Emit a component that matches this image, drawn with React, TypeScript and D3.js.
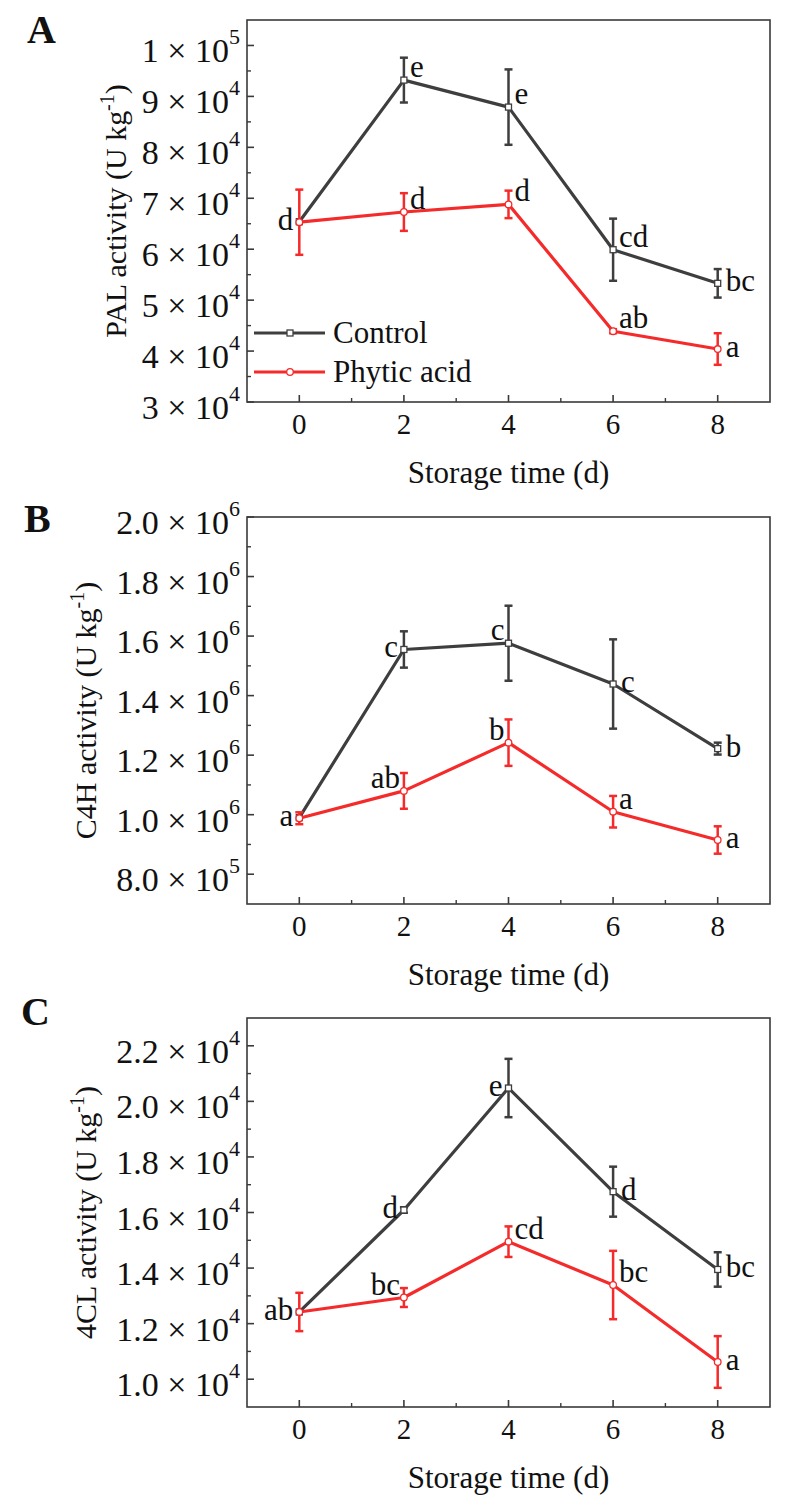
import React from 'react';
import * as d3 from 'd3';

// ---------- DATA ----------
const days = [0, 2, 4, 6, 8];
const xTickValues = [0, 2, 4, 6, 8];
const xMinorValues = [1, 3, 5, 7];
const seriesNames = ['Control', 'Phytic acid'];

// Panel A – PAL
const palControl = [65400, 93200, 87900, 59900, 53300];
const palControlErr = [0, 4400, 7400, 6100, 2800];
const palPhytic = [65300, 67300, 68800, 43900, 40400];
const palPhyticErr = [6400, 3700, 2700, 400, 3100];
const palControlLetters = ['', 'e', 'e', 'cd', 'bc'];
const palPhyticLetters = ['d', 'd', 'd', 'ab', 'a'];
const palTicks = [30000, 40000, 50000, 60000, 70000, 80000, 90000, 100000];
const palTickMantissa = ['3', '4', '5', '6', '7', '8', '9', '1'];
const palTickExp = ['4', '4', '4', '4', '4', '4', '4', '5'];
const palMinor = [35000, 45000, 55000, 65000, 75000, 85000, 95000];

// Panel B – C4H
const c4hControl = [990000, 1555000, 1576000, 1439000, 1222000];
const c4hControlErr = [0, 61000, 126000, 150000, 20000];
const c4hPhytic = [988000, 1080000, 1242000, 1010000, 915000];
const c4hPhyticErr = [20000, 60000, 78000, 53000, 46000];
const c4hControlLetters = ['', 'c', 'c', 'c', 'b'];
const c4hPhyticLetters = ['a', 'ab', 'b', 'a', 'a'];
const c4hTicks = [800000, 1000000, 1200000, 1400000, 1600000, 1800000, 2000000];
const c4hTickMantissa = ['8.0', '1.0', '1.2', '1.4', '1.6', '1.8', '2.0'];
const c4hTickExp = ['5', '6', '6', '6', '6', '6', '6'];
const c4hMinor = [900000, 1100000, 1300000, 1500000, 1700000, 1900000];

// Panel C – 4CL
const clControl = [12420, 16090, 20480, 16750, 13950];
const clControlErr = [0, 100, 1050, 900, 620];
const clPhytic = [12420, 12940, 14950, 13390, 10620];
const clPhyticErr = [690, 340, 550, 1230, 930];
const clControlLetters = ['', 'd', 'e', 'd', 'bc'];
const clPhyticLetters = ['ab', 'bc', 'cd', 'bc', 'a'];
const clTicks = [10000, 12000, 14000, 16000, 18000, 20000, 22000];
const clTickMantissa = ['1.0', '1.2', '1.4', '1.6', '1.8', '2.0', '2.2'];
const clTickExp = ['4', '4', '4', '4', '4', '4', '4'];
const clMinor = [11000, 13000, 15000, 17000, 19000, 21000];

// ---------- LAYOUT / STYLE ----------
type Pos = 'E' | 'NE' | 'W' | 'NW';
const palControlPos: Pos[] = ['W', 'NE', 'NE', 'NE', 'E'];
const palPhyticPos: Pos[] = ['W', 'NE', 'NE', 'NE', 'E'];
const c4hControlPos: Pos[] = ['W', 'W', 'NW', 'E', 'E'];
const c4hPhyticPos: Pos[] = ['W', 'NW', 'NW', 'NE', 'E'];
const clControlPos: Pos[] = ['W', 'W', 'W', 'E', 'E'];
const clPhyticPos: Pos[] = ['W', 'NW', 'NE', 'NE', 'E'];

const posOffset: Record<Pos, { dx: number; dy: number; anchor: string }> = {
  E: { dx: 8, dy: 8, anchor: 'start' },
  NE: { dx: 6, dy: -3, anchor: 'start' },
  W: { dx: -6, dy: 8, anchor: 'end' },
  NW: { dx: -4, dy: -3, anchor: 'end' },
};

const FONT = '"Liberation Serif", "Times New Roman", "DejaVu Serif", serif';
const CONTROL_COLOR = '#3e3e3e';
const PHYTIC_COLOR = '#f52b2b';
const AXIS_COLOR = '#3a3a3a';

const PLOT_LEFT = 247;
const PLOT_RIGHT = 770;

interface PanelSpec {
  letter: string;
  letterX: number;
  letterY: number;
  top: number;
  bottom: number;
  domain: [number, number];
  ticks: number[];
  mant: string[];
  exp: string[];
  minor: number[];
  titleMain: string;
  titleX: number;
  control: number[];
  controlErr: number[];
  phytic: number[];
  phyticErr: number[];
  controlLetters: string[];
  phyticLetters: string[];
  controlPos: Pos[];
  phyticPos: Pos[];
  legend: boolean;
}

const panels: PanelSpec[] = [
  {
    letter: 'A', letterX: 27, letterY: 43, top: 20, bottom: 402, domain: [30000, 105000],
    ticks: palTicks, mant: palTickMantissa, exp: palTickExp, minor: palMinor,
    titleMain: 'PAL activity (U kg', titleX: 126,
    control: palControl, controlErr: palControlErr, phytic: palPhytic, phyticErr: palPhyticErr,
    controlLetters: palControlLetters, phyticLetters: palPhyticLetters,
    controlPos: palControlPos, phyticPos: palPhyticPos, legend: true,
  },
  {
    letter: 'B', letterX: 24, letterY: 532, top: 517, bottom: 904, domain: [700000, 2000000],
    ticks: c4hTicks, mant: c4hTickMantissa, exp: c4hTickExp, minor: c4hMinor,
    titleMain: 'C4H activity (U kg', titleX: 96,
    control: c4hControl, controlErr: c4hControlErr, phytic: c4hPhytic, phyticErr: c4hPhyticErr,
    controlLetters: c4hControlLetters, phyticLetters: c4hPhyticLetters,
    controlPos: c4hControlPos, phyticPos: c4hPhyticPos, legend: false,
  },
  {
    letter: 'C', letterX: 21, letterY: 1025, top: 1018, bottom: 1407, domain: [9000, 23000],
    ticks: clTicks, mant: clTickMantissa, exp: clTickExp, minor: clMinor,
    titleMain: '4CL activity (U kg', titleX: 96,
    control: clControl, controlErr: clControlErr, phytic: clPhytic, phyticErr: clPhyticErr,
    controlLetters: clControlLetters, phyticLetters: clPhyticLetters,
    controlPos: clControlPos, phyticPos: clPhyticPos, legend: false,
  },
];

const x = d3.scaleLinear().domain([-1, 9]).range([PLOT_LEFT, PLOT_RIGHT]);

function Series({ values, errs, y, color, marker }: {
  values: number[]; errs: number[]; y: d3.ScaleLinear<number, number>; color: string; marker: 'square' | 'circle';
}) {
  const line = d3.line<number>().x((_, i) => x(days[i])).y((v) => y(v));
  return (
    <g>
      {values.map((v, i) =>
        errs[i] > 0 ? (
          <g key={'e' + i} stroke={color} strokeWidth={2.5}>
            <line x1={x(days[i])} x2={x(days[i])} y1={y(v - errs[i])} y2={y(v + errs[i])} />
            <line x1={x(days[i]) - 4} x2={x(days[i]) + 4} y1={y(v + errs[i])} y2={y(v + errs[i])} />
            <line x1={x(days[i]) - 4} x2={x(days[i]) + 4} y1={y(v - errs[i])} y2={y(v - errs[i])} />
          </g>
        ) : null
      )}
      <path d={line(values) || ''} fill="none" stroke={color} strokeWidth={3.2} strokeLinejoin="round" />
      {values.map((v, i) =>
        marker === 'square' ? (
          <rect key={'m' + i} x={x(days[i]) - 3} y={y(v) - 3} width={6} height={6} fill="#fff" stroke={color} strokeWidth={1.3} />
        ) : (
          <circle key={'m' + i} cx={x(days[i])} cy={y(v)} r={3.3} fill="#fff" stroke={color} strokeWidth={1.3} />
        )
      )}
    </g>
  );
}

function Letters({ values, letters, pos, y }: {
  values: number[]; letters: string[]; pos: Pos[]; y: d3.ScaleLinear<number, number>;
}) {
  return (
    <g fontFamily={FONT} fontSize={31} fill="#111">
      {values.map((v, i) => {
        if (!letters[i]) return null;
        const o = posOffset[pos[i]];
        return (
          <text key={i} x={x(days[i]) + o.dx} y={y(v) + o.dy} textAnchor={o.anchor}>
            {letters[i]}
          </text>
        );
      })}
    </g>
  );
}

function Panel({ p }: { p: PanelSpec }) {
  const y = d3.scaleLinear().domain(p.domain).range([p.bottom, p.top]);
  const midY = (p.top + p.bottom) / 2;
  return (
    <g>
      <text x={p.letterX} y={p.letterY} fontFamily={FONT} fontWeight="bold" fontSize={40} fill="#111">
        {p.letter}
      </text>
      {/* frame */}
      <rect x={PLOT_LEFT} y={p.top} width={PLOT_RIGHT - PLOT_LEFT} height={p.bottom - p.top} fill="none" stroke={AXIS_COLOR} strokeWidth={1.6} />
      {/* y ticks */}
      {p.ticks.map((t) => (
        <line key={'yt' + t} x1={PLOT_LEFT} x2={PLOT_LEFT + 7} y1={y(t)} y2={y(t)} stroke={AXIS_COLOR} strokeWidth={1.6} />
      ))}
      {p.minor.map((t) => (
        <line key={'ym' + t} x1={PLOT_LEFT} x2={PLOT_LEFT + 4} y1={y(t)} y2={y(t)} stroke={AXIS_COLOR} strokeWidth={1.4} />
      ))}
      {p.ticks.map((t, i) => (
        <text key={'yl' + t} x={PLOT_LEFT - 7} y={y(t) + 17} textAnchor="end" fontFamily={FONT} fontSize={34} fill="#111">
          <tspan>{p.mant[i] + ' \u00d7 10'}</tspan>
          <tspan dy={-18} fontSize={22}>{p.exp[i]}</tspan>
        </text>
      ))}
      {/* x ticks */}
      {xTickValues.map((t) => (
        <line key={'xt' + t} x1={x(t)} x2={x(t)} y1={p.bottom} y2={p.bottom - 7} stroke={AXIS_COLOR} strokeWidth={1.6} />
      ))}
      {xMinorValues.map((t) => (
        <line key={'xm' + t} x1={x(t)} x2={x(t)} y1={p.bottom} y2={p.bottom - 4} stroke={AXIS_COLOR} strokeWidth={1.4} />
      ))}
      {xTickValues.map((t) => (
        <text key={'xl' + t} x={x(t)} y={p.bottom + 32} textAnchor="middle" fontFamily={FONT} fontSize={29} fill="#111">
          {t}
        </text>
      ))}
      {/* axis titles */}
      <text x={(PLOT_LEFT + PLOT_RIGHT) / 2} y={p.bottom + 81} textAnchor="middle" fontFamily={FONT} fontSize={31} fill="#111">
        Storage time (d)
      </text>
      <text transform={`translate(${p.titleX},${midY}) rotate(-90)`} textAnchor="middle" fontFamily={FONT} fontSize={30} fill="#111">
        <tspan>{p.titleMain}</tspan>
        <tspan dy={-12} fontSize={20}>-1</tspan>
        <tspan dy={12}>)</tspan>
      </text>
      {/* series */}
      <Series values={p.control} errs={p.controlErr} y={y} color={CONTROL_COLOR} marker="square" />
      <Series values={p.phytic} errs={p.phyticErr} y={y} color={PHYTIC_COLOR} marker="circle" />
      <Letters values={p.control} letters={p.controlLetters} pos={p.controlPos} y={y} />
      <Letters values={p.phytic} letters={p.phyticLetters} pos={p.phyticPos} y={y} />
      {p.legend && (
        <g fontFamily={FONT} fontSize={31} fill="#111">
          {seriesNames.map((name, i) => {
            const ly = 333 + i * 39;
            const color = i === 0 ? CONTROL_COLOR : PHYTIC_COLOR;
            return (
              <g key={name}>
                <line x1={254} x2={325} y1={ly} y2={ly} stroke={color} strokeWidth={3.2} />
                {i === 0 ? (
                  <rect x={287} y={ly - 3} width={6} height={6} fill="#fff" stroke={color} strokeWidth={1.3} />
                ) : (
                  <circle cx={290} cy={ly} r={3.3} fill="#fff" stroke={color} strokeWidth={1.3} />
                )}
                <text x={333} y={ly + 10}>{name}</text>
              </g>
            );
          })}
        </g>
      )}
    </g>
  );
}

export default function App() {
  return (
    <div style={{ position: 'absolute', left: 0, top: 0 }}>
      <svg width={794} height={1506} viewBox="0 0 794 1506" style={{ display: 'block', background: '#fff' }}>
        {panels.map((p) => (
          <Panel key={p.letter} p={p} />
        ))}
      </svg>
    </div>
  );
}
